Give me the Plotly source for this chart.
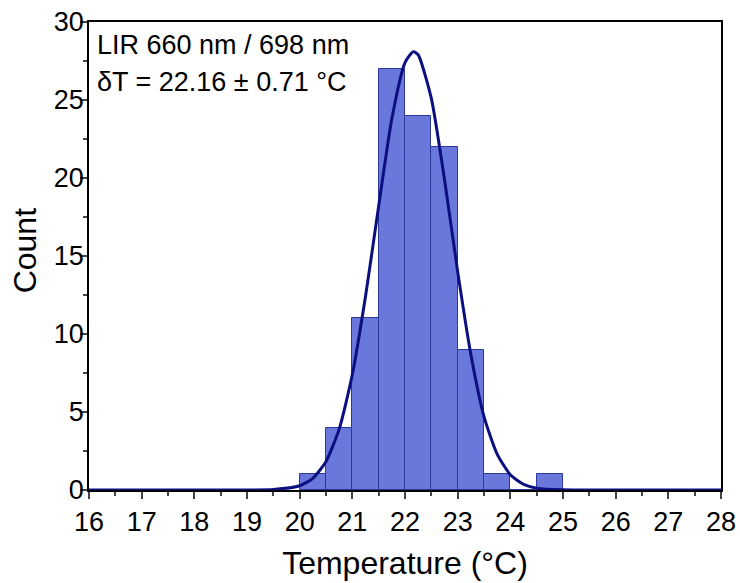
import plotly.graph_objects as go

bin_centers = [20.25, 20.75, 21.25, 21.75, 22.25, 22.75, 23.25, 23.75, 24.25, 24.75]
counts = [1, 4, 11, 27, 24, 22, 9, 1, 0, 1]

fit_x = [16, 17, 18, 19, 19.5, 20, 20.25, 20.5, 20.75, 21, 21.25, 21.5, 21.75, 22, 22.16,
         22.25, 22.5, 22.75, 23, 23.25, 23.5, 23.75, 24, 24.25, 24.5, 25, 26, 27, 28]
fit_y = [0, 0, 0, 0, 0.03, 0.27, 0.75, 1.83, 3.9, 7.4, 12.4, 18.2, 23.8, 27.4, 28.1,
         27.9, 25.1, 19.9, 14.0, 8.7, 4.7, 2.3, 0.98, 0.37, 0.12, 0.01, 0, 0, 0]

x_ticks = list(range(16, 29))
y_ticks = [0, 5, 10, 15, 20, 25, 30]

fig = go.Figure()
fig.add_trace(go.Bar(x=bin_centers, y=counts, width=0.5,
                     marker=dict(color="#6a77db", line=dict(color="#2b3a9a", width=1))))
fig.add_trace(go.Scatter(x=fit_x, y=fit_y, mode="lines",
                         line=dict(color="#0b0f80", width=3, shape="spline", smoothing=0.6)))

font = "Liberation Sans, Arial, sans-serif"
fig.update_layout(
    width=740, height=583,
    margin=dict(l=89, r=19, t=22, b=93),
    plot_bgcolor="white", paper_bgcolor="white",
    showlegend=False, bargap=0,
    font=dict(family=font, color="black"),
    xaxis=dict(range=[16, 28], tickvals=x_ticks, ticks="outside", ticklen=7, tickwidth=1.5,
               showline=True, linecolor="black", linewidth=1.5, mirror=True, showgrid=False, zeroline=False,
               automargin=False,
               minor=dict(tickvals=[v + 0.5 for v in x_ticks[:-1]], ticks="outside", ticklen=4, tickwidth=1.5, showgrid=False),
               tickfont=dict(size=27), title=dict(text="Temperature (°C)", font=dict(size=32), standoff=15)),
    yaxis=dict(range=[0, 30], tickvals=y_ticks, ticks="outside", ticklen=7, tickwidth=1.5,
               showline=True, linecolor="black", linewidth=1.5, mirror=True, showgrid=False, zeroline=False,
               automargin=False, ticklabelstandoff=-9,
               minor=dict(tickvals=[v + 2.5 for v in y_ticks[:-1]], ticks="outside", ticklen=4, tickwidth=1.5, showgrid=False),
               tickfont=dict(size=27)),
    annotations=[
        dict(xref="paper", yref="paper", x=-0.1013, y=0.512, xanchor="center", yanchor="middle",
             text="Count", textangle=-90, showarrow=False, font=dict(size=32, family=font, color="black")),
        dict(xref="paper", yref="paper", x=0.01, y=0.951, xanchor="left", yanchor="middle",
             text="LIR 660 nm / 698 nm", showarrow=False, font=dict(size=27, family=font, color="black")),
        dict(xref="paper", yref="paper", x=0.01, y=0.872, xanchor="left", yanchor="middle",
             text="δT = 22.16 ± 0.71 °C", showarrow=False, font=dict(size=27, family=font, color="black")),
    ],
)
fig.write_html("out.html", config={"displayModeBar": False})
with open("out.html", encoding="utf-8") as f:
    html = f.read()
html = html.replace("<body>", '<body style="margin:0">', 1)
with open("out.html", "w", encoding="utf-8") as f:
    f.write(html)
